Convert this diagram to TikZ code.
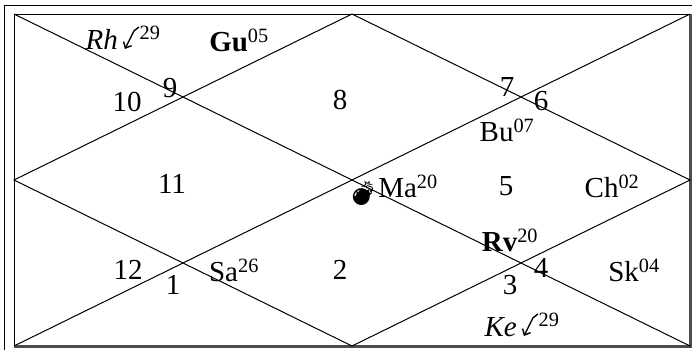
\documentclass[tikz,border=0pt]{standalone}
\usepackage{fontspec}
\setmainfont{Liberation Serif}
\newfontfamily\emojifont{Noto Emoji}
\usetikzlibrary{arrows.meta}
% retrograde mark
\newcommand{\retro}{\tikz[x=1pt,y=1pt,baseline=0pt]\draw[line width=1.4pt,-{Straight Barb[length=5pt,width=9pt]}] (15,22) -- (10,18) -- (1,0);}
\tikzset{
  bhava/.style={font=\fontsize{29}{32}\selectfont},
  graha/.style={font=\fontsize{29}{32}\selectfont, inner sep=0pt}
}
\begin{document}
\begin{tikzpicture}[x=1pt,y=-1pt,line width=1pt]
    \useasboundingbox (0,0) rectangle (692,349);
    \coordinate (NW) at (14,14);
    \coordinate (NE) at (690,14);
    \coordinate (SW) at (14,346);
    \coordinate (SE) at (690,346);
    \coordinate (N) at (352,14);
    \coordinate (E) at (690,180);
    \coordinate (S) at (352,346);
    \coordinate (W) at (14,180);
    % frame
    \draw (4,5) rectangle (720,380);
    \draw (NW) rectangle (SE);
    \draw[line width=3pt, black!70] (SW) -- (SE) -- (NE);
    % chart lines
    \draw (NW) -- (SE);
    \draw (SW) -- (NE);
    \draw (N) -- (E) -- (S) -- (W) -- cycle;
    % house numbers
    \node[bhava] (h1) at (173,285) {1};
    \node[bhava] (h2) at (340,270) {2};
    \node[bhava] (h3) at (510,285) {3};
    \node[bhava] (h4) at (541,268) {4};
    \node[bhava] (h5) at (506,186) {5};
    \node[bhava] (h6) at (541,101) {6};
    \node[bhava] (h7) at (507,87) {7};
    \node[bhava] (h8) at (340,100) {8};
    \node[bhava] (h9) at (170,88) {9};
    \node[bhava] (h10) at (127,102) {10};
    \node[bhava] (h11) at (172,184) {11};
    \node[bhava] (h12) at (128,270) {12};
    % planets
    \node[graha] (rh) at (123,38) {\textit{Rh}\,\retro\textsuperscript{29}};
    \node[graha] (gu) at (239,40) {\textbf{Gu}\textsuperscript{05}};
    \node[graha] (bu) at (507,130) {Bu\textsuperscript{07}};
    \node[graha] (ma) at (408,186) {Ma\textsuperscript{20}};
    \node[font=\fontsize{24}{26}\selectfont, inner sep=0pt] (bomb) at (363,193) {\emojifont 💣};
    \node[graha] (ch) at (612,186) {Ch\textsuperscript{02}};
    \node[graha] (rv) at (510,240) {\textbf{Rv}\textsuperscript{20}};
    \node[graha] (sa) at (234,270) {Sa\textsuperscript{26}};
    \node[graha] (sk) at (634,270) {Sk\textsuperscript{04}};
    \node[graha] (ke) at (522,325) {\textit{Ke}\,\retro\textsuperscript{29}};
\end{tikzpicture}
\end{document}
